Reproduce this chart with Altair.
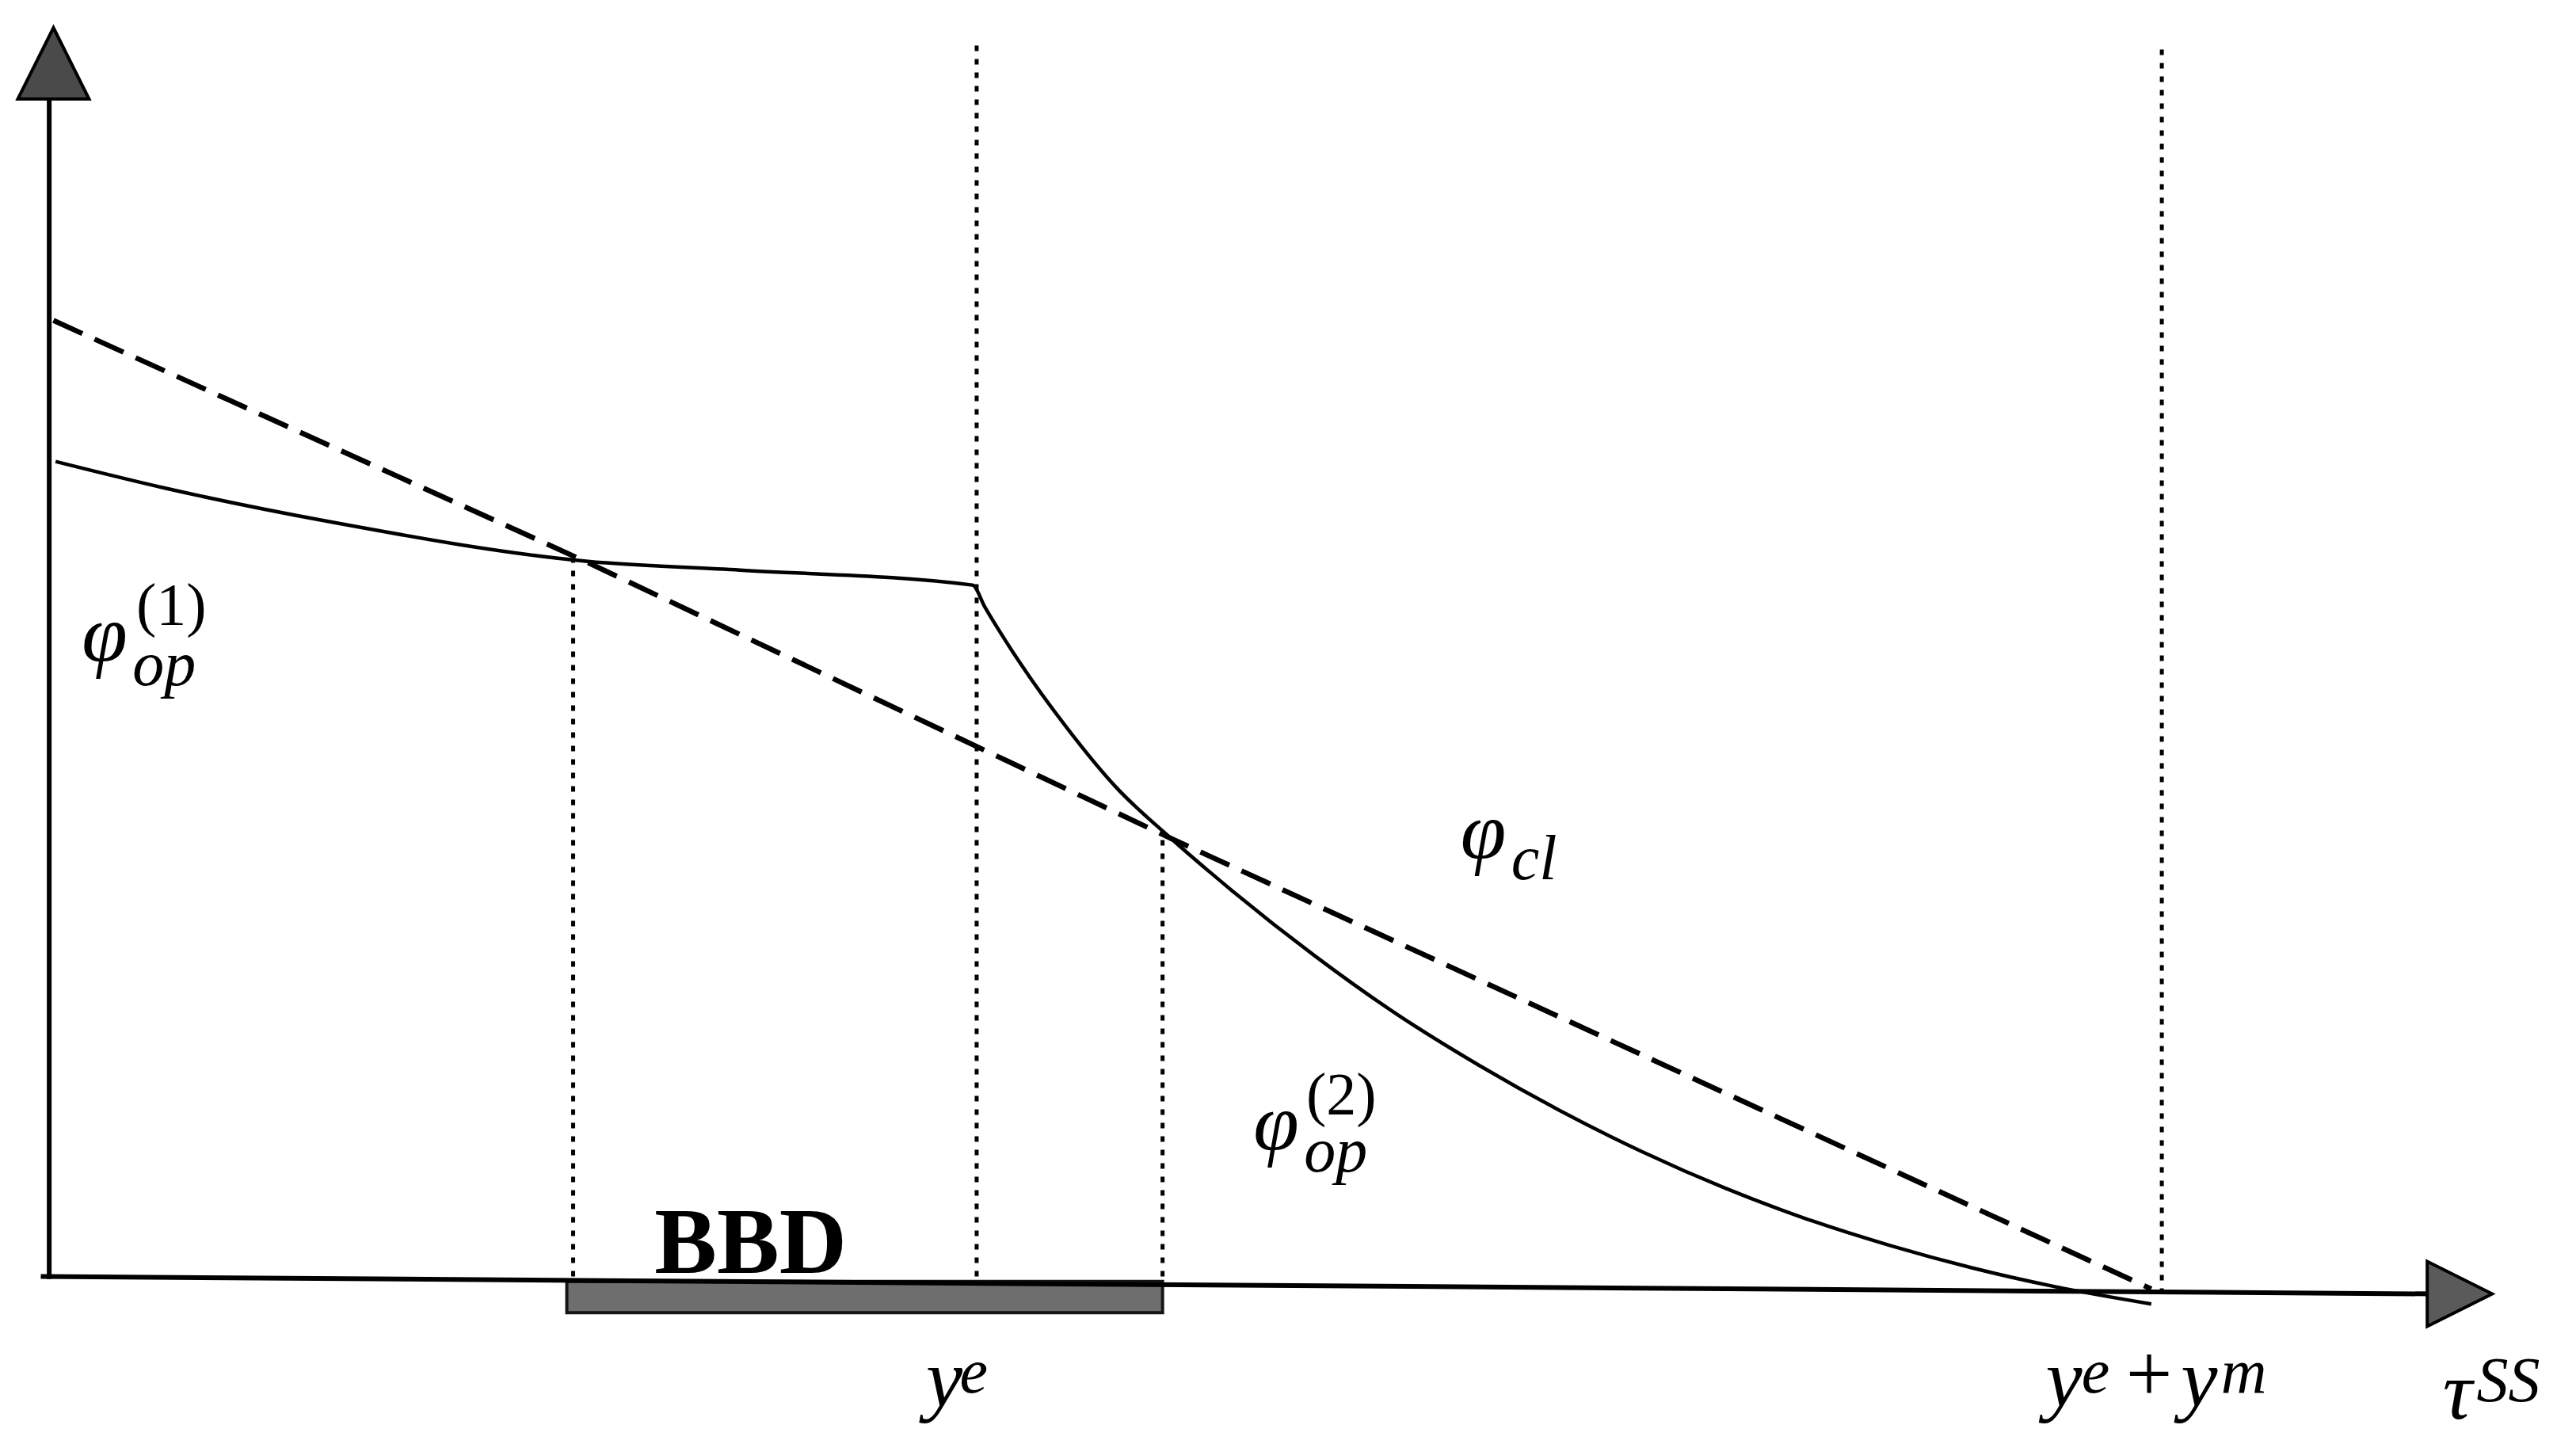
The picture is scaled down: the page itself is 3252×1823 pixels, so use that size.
import altair as alt
import pandas as pd

# ---------------- data (x: tau^SS, ye+ym = 100 ; y: phi, axis top = 100) ----------------
# closed-economy line (dashed)
cl_x = [0.2, 25.5, 53.1, 99.5]
cl_y = [76.6, 57.2, 35.1, -1.0]

# open-economy curve (solid): branch (1) up to the kink at y^e, branch (2) after
op_x = [0.3, 5.4, 13.2, 25.5, 32.7, 43.7, 44.3, 45.9, 48.2, 50.5, 53.1, 56.0,
        59.9, 63.8, 67.7, 71.5, 75.4, 79.3, 83.2, 87.1, 91.0, 94.9, 99.5]
op_y = [65.3, 63.2, 60.5, 57.3, 56.6, 55.4, 53.6, 49.3, 43.9, 39.2, 35.1, 30.9,
        25.7, 21.0, 16.9, 13.3, 10.0, 7.1, 4.6, 2.5, 0.7, -0.8, -2.2]

# vertical dotted guides
guide_x = [24.8, 43.9, 52.7, 100.0]
guide_lo = [0.0, 0.0, 0.0, -1.4]
guide_hi = [57.5, 99.0, 35.6, 98.4]

# BBD interval
bbd_x = [24.5, 52.7]
bbd_y = [-0.4, -2.9]

# axes
axis_x1 = [0.0, -0.4]
axis_y1 = [-0.2, 0.0]
axis_x2 = [0.0, 113.0]
axis_y2 = [95.0, -1.4]
arrow_up = (0.2, 97.2)
arrow_right = (114.1, -1.4)

# text annotations
big_italic = [("φ", 1.54, 49.3), ("φ", 66.8, 33.5), ("φ", 57.0, 10.1),
              ("y", 41.5, -10.4), ("y", 94.5, -10.4), ("y", 100.9, -10.4),
              ("τ", 113.3, -11.4)]
small_italic = [("op", 3.94, 47.4), ("cl", 69.2, 31.8), ("op", 59.4, 8.4),
                ("e", 43.1, -9.3), ("e", 96.2, -9.3), ("m", 102.8, -9.3),
                ("SS", 114.9, -10.0)]
small_roman = [("(1)", 4.12, 52.2), ("(2)", 59.5, 13.0)]
big_roman = [("+", 98.3, -10.0)]
bbd_label = [("BBD", 33.2, 0.3)]

# ---------------- layout ----------------
W, H = 3236, 1805
PX_X, PX_Y = 26.67, 15.8
X_MIN = -2.03
X_MAX = X_MIN + W / PX_X
Y_MAX = 101.77
Y_MIN = Y_MAX - H / PX_Y

xs = alt.Scale(domain=[X_MIN, X_MAX], nice=False, zero=False)
ys = alt.Scale(domain=[Y_MIN, Y_MAX], nice=False, zero=False)


def ex(f="x"):
    return alt.X(f"{f}:Q", scale=xs, axis=None)


def ey(f="y"):
    return alt.Y(f"{f}:Q", scale=ys, axis=None)


cl_df = pd.DataFrame({"x": cl_x, "y": cl_y})
op_df = pd.DataFrame({"x": op_x, "y": op_y})
guide_df = pd.DataFrame({"x": guide_x, "y": guide_lo, "y2": guide_hi})
bbd_df = pd.DataFrame({"x": [bbd_x[0]], "x2": [bbd_x[1]], "y": [bbd_y[0]], "y2": [bbd_y[1]]})
axis_df = pd.DataFrame({"x": axis_x1, "y": axis_y1, "x2": axis_x2, "y2": axis_y2})


def tdf(rows):
    return pd.DataFrame(rows, columns=["t", "x", "y"])


bar = alt.Chart(bbd_df).mark_rect(fill="#6e6e6e", stroke="#151515", strokeWidth=4).encode(
    x=ex(), x2=alt.X2("x2:Q"), y=ey(), y2=alt.Y2("y2:Q"))

guides = alt.Chart(guide_df).mark_rule(color="black", strokeWidth=5, strokeDash=[7, 10]).encode(
    x=ex(), y=ey(), y2=alt.Y2("y2:Q"))

axes = alt.Chart(axis_df).mark_rule(color="black", strokeWidth=6).encode(
    x=ex(), y=ey(), x2=alt.X2("x2:Q"), y2=alt.Y2("y2:Q"))

cl_line = alt.Chart(cl_df).mark_line(color="black", strokeWidth=6.5, strokeDash=[40, 17]).encode(
    x=ex(), y=ey())

op_line = alt.Chart(op_df).mark_line(color="black", strokeWidth=4.5, interpolate="monotone").encode(
    x=ex(), y=ey())

up = alt.Chart(pd.DataFrame({"x": [arrow_up[0]], "y": [arrow_up[1]]})).mark_point(
    shape="M0,-1L1,1L-1,1Z", size=8100, filled=True, fill="#4a4a4a", stroke="black",
    strokeWidth=4, opacity=1).encode(x=ex(), y=ey())

right = alt.Chart(pd.DataFrame({"x": [arrow_right[0]], "y": [arrow_right[1]]})).mark_point(
    shape="M-1,-1L1,0L-1,1Z", size=6724, filled=True, fill="#5a5a5a", stroke="black",
    strokeWidth=4, opacity=1).encode(x=ex(), y=ey())

SERIF = "Liberation Serif"

t_big_it = alt.Chart(tdf(big_italic)).mark_text(
    font=SERIF, fontStyle="italic", fontSize=104, align="left", baseline="alphabetic",
    color="black").encode(x=ex(), y=ey(), text="t:N")
t_small_it = alt.Chart(tdf(small_italic)).mark_text(
    font=SERIF, fontStyle="italic", fontSize=80, align="left", baseline="alphabetic",
    color="black").encode(x=ex(), y=ey(), text="t:N")
t_small_rm = alt.Chart(tdf(small_roman)).mark_text(
    font=SERIF, fontSize=76, align="left", baseline="alphabetic",
    color="black").encode(x=ex(), y=ey(), text="t:N")
t_big_rm = alt.Chart(tdf(big_roman)).mark_text(
    font=SERIF, fontSize=104, align="left", baseline="alphabetic",
    color="black").encode(x=ex(), y=ey(), text="t:N")
t_bbd = alt.Chart(tdf(bbd_label)).mark_text(
    font=SERIF, fontWeight="bold", fontSize=118, align="center", baseline="alphabetic",
    color="black").encode(x=ex(), y=ey(), text="t:N")

chart = alt.layer(
    bar, guides, axes, cl_line, op_line, up, right,
    t_big_it, t_small_it, t_small_rm, t_big_rm, t_bbd
).properties(
    width=W, height=H, padding=0,
    autosize=alt.AutoSizeParams(type="fit", contains="padding"),
    background="white",
).configure_view(strokeWidth=0)

chart.save("out.html", embed_options={"renderer": "svg", "actions": False})
